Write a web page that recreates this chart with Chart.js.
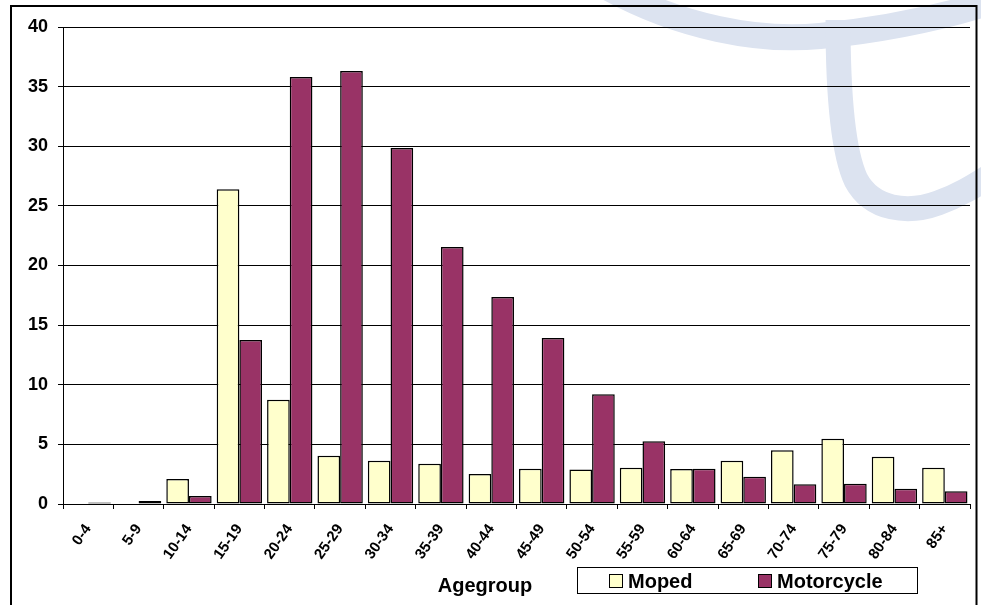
<!DOCTYPE html>
<html>
<head>
<meta charset="utf-8">
<title>Casualties by age group: moped and motorcycle</title>
<script src="https://cdn.jsdelivr.net/npm/chart.js@4/dist/chart.umd.min.js"></script>
<style>
  html, body { margin: 0; padding: 0; background: #ffffff; }
  #wrap { width: 981px; height: 605px; position: relative; }
</style>
</head>
<body>
<div id="wrap"><canvas id="chart" width="981" height="605"></canvas></div>
<script>
// Age groups on the category axis
const ageGroups = ['0-4', '5-9', '10-14', '15-19', '20-24', '25-29', '30-34', '35-39', '40-44',
  '45-49', '50-54', '55-59', '60-64', '65-69', '70-74', '75-79', '80-84', '85+'];

// Values per age group
const mopedValues = [0, 0, 2.1, 26.4, 8.75, 4.05, 3.63, 3.38, 2.52,
  2.96, 2.9, 3.05, 2.93, 3.63, 4.5, 5.48, 3.97, 3.05];
const motorcycleValues = [0.12, 0.25, 0.67, 13.75, 35.8, 36.3, 29.85, 21.55, 17.36,
  13.92, 9.2, 5.26, 2.96, 2.29, 1.65, 1.7, 1.28, 1.06];

// Value axis ticks
const yTickValues = [0, 5, 10, 15, 20, 25, 30, 35, 40];

const axisTitle = 'Agegroup';
const FONT = '"Liberation Sans", Arial, Helvetica, sans-serif';

// Background: white page, faint blue logo strokes and the outer frame
const backdrop = {
  id: 'backdrop',
  beforeDraw(chart) {
    const ctx = chart.ctx;
    ctx.save();
    ctx.fillStyle = '#ffffff';
    ctx.fillRect(0, 0, chart.width, chart.height);
    ctx.strokeStyle = '#dce3f0';
    ctx.lineCap = 'butt';
    ctx.lineJoin = 'round';
    // sweeping arc across the top
    ctx.lineWidth = 26;
    ctx.beginPath();
    ctx.moveTo(605, -14);
    ctx.bezierCurveTo(680, 28, 760, 42, 820, 36);
    ctx.bezierCurveTo(880, 30, 940, 18, 990, 2);
    ctx.stroke();
    // descending stem curling to the right
    ctx.lineWidth = 25;
    ctx.beginPath();
    ctx.moveTo(838, 20);
    ctx.bezierCurveTo(838, 90, 842, 150, 856, 180);
    ctx.bezierCurveTo(872, 210, 908, 214, 938, 203);
    ctx.bezierCurveTo(958, 196, 974, 186, 990, 176);
    ctx.stroke();
    ctx.restore();
  },
  afterDraw(chart) {
    const ctx = chart.ctx;
    ctx.save();
    ctx.strokeStyle = '#000000';
    ctx.lineWidth = 2;
    ctx.strokeRect(11, 6, 965.5, 640);
    ctx.restore();
  }
};

// Axis title and boxed legend on the row beneath the category labels
const footer = {
  id: 'footer',
  afterDraw(chart) {
    const ctx = chart.ctx;
    ctx.save();
    ctx.fillStyle = '#000000';
    ctx.font = 'bold 20px ' + FONT;
    ctx.textAlign = 'center';
    ctx.textBaseline = 'alphabetic';
    ctx.fillText(axisTitle, 485, 592);

    // legend frame
    const bx = 577, by = 567, bw = 340, bh = 26;
    ctx.fillStyle = '#ffffff';
    ctx.fillRect(bx, by, bw, bh);
    ctx.strokeStyle = '#000000';
    ctx.lineWidth = 1;
    ctx.strokeRect(bx + 0.5, by + 0.5, bw, bh);

    const starts = [609, 758];
    chart.data.datasets.forEach((ds, i) => {
      const x = starts[i];
      ctx.fillStyle = ds.backgroundColor;
      ctx.fillRect(x, 574, 14, 14);
      ctx.strokeStyle = '#000000';
      ctx.strokeRect(x + 0.5, 574.5, 13, 13);
      ctx.fillStyle = '#000000';
      ctx.font = 'bold 20px ' + FONT;
      ctx.textAlign = 'left';
      ctx.textBaseline = 'alphabetic';
      ctx.fillText(ds.label, x + 19, 588);
    });
    ctx.restore();
  }
};

// empty categories get no outline at all
const outline = (c) => (c.raw === 0 ? 0 : 1.5);

new Chart(document.getElementById('chart'), {
  type: 'bar',
  data: {
    labels: ageGroups,
    datasets: [
      {
        label: 'Moped',
        data: mopedValues,
        backgroundColor: '#ffffcc',
        borderColor: '#000000',
        borderWidth: outline,
        borderSkipped: false
      },
      {
        label: 'Motorcycle',
        data: motorcycleValues,
        backgroundColor: '#993366',
        borderColor: '#000000',
        borderWidth: outline,
        borderSkipped: false
      }
    ]
  },
  options: {
    responsive: false,
    animation: false,
    devicePixelRatio: 1,
    layout: { padding: { left: 0, right: 11, top: 27, bottom: 0 } },
    datasets: { bar: { categoryPercentage: 0.9, barPercentage: 1.0 } },
    plugins: {
      legend: { display: false },
      tooltip: { enabled: false },
      title: { display: false }
    },
    scales: {
      x: {
        offset: true,
        grid: {
          offset: true,
          drawOnChartArea: false,
          drawTicks: true,
          tickLength: 5,
          color: '#000000'
        },
        border: { display: true, color: '#000000', width: 1 },
        ticks: {
          autoSkip: false,
          minRotation: 55,
          maxRotation: 55,
          padding: 12,
          color: '#000000',
          font: { family: FONT, size: 15, weight: 'bold' }
        },
        afterFit(scale) { scale.height = 101; }
      },
      y: {
        min: 0,
        max: 40,
        afterBuildTicks(scale) { scale.ticks = yTickValues.map(v => ({ value: v })); },
        grid: {
          color: '#000000',
          lineWidth: 1,
          drawTicks: true,
          tickLength: 5
        },
        border: { display: true, color: '#000000', width: 1 },
        ticks: {
          padding: 10,
          color: '#000000',
          font: { family: FONT, size: 18, weight: 'bold' }
        },
        afterFit(scale) { scale.width = 63; }
      }
    }
  },
  plugins: [backdrop, footer]
});
</script>
</body>
</html>
